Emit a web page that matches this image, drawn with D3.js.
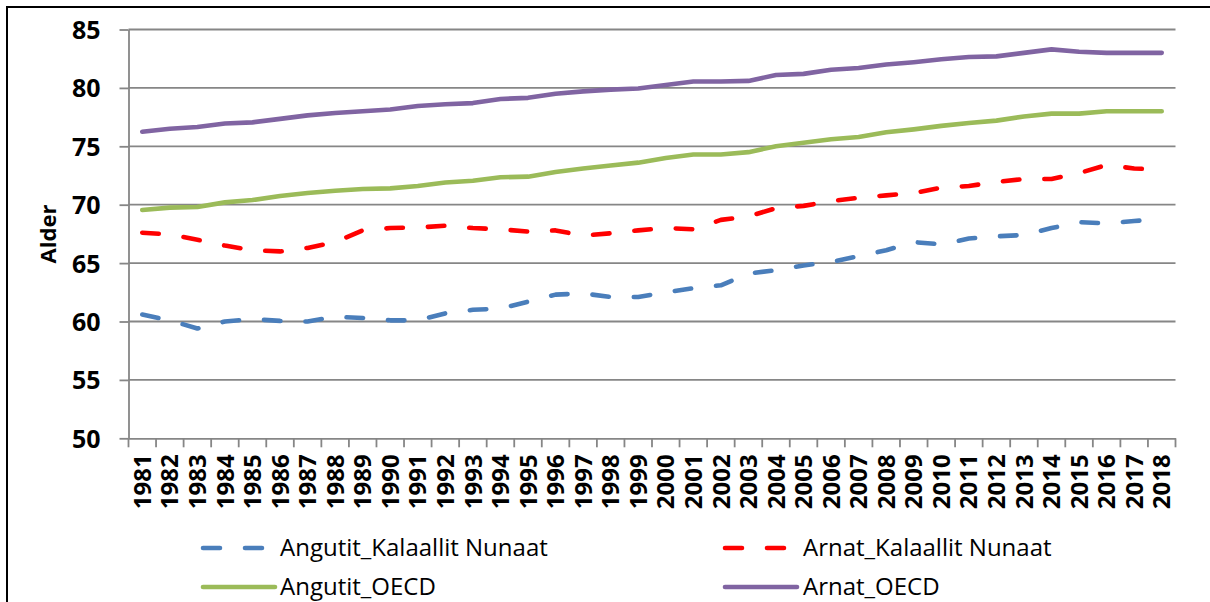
<!DOCTYPE html>
<html>
<head>
<meta charset="utf-8">
<script src="https://cdn.jsdelivr.net/npm/d3@7"></script>
<style>
  body { margin: 0; background: #fff; }
  svg { display: block; }
  .tick text { font-family: "Open Sans", sans-serif; font-weight: bold; fill: #000; }
</style>
</head>
<body>
<script>
// ages per year
var years = ["1981","1982","1983","1984","1985","1986","1987","1988","1989","1990",
  "1991","1992","1993","1994","1995","1996","1997","1998","1999","2000",
  "2001","2002","2003","2004","2005","2006","2007","2008","2009","2010",
  "2011","2012","2013","2014","2015","2016","2017","2018"];

var angutitKN = [60.6, 60.1, 59.4, 60.0, 60.2, 60.05, 60.0, 60.4, 60.3, 60.1, 60.1,
  60.7, 61.0, 61.1, 61.7, 62.3, 62.4, 62.1, 62.1, 62.5, 62.85, 63.1, 64.1, 64.4, 64.8,
  65.1, 65.6, 66.1, 66.8, 66.6, 67.1, 67.3, 67.4, 68.0, 68.5, 68.4, 68.6, 68.8];

var arnatKN = [67.6, 67.45, 67.0, 66.5, 66.1, 66.0, 66.3, 66.8, 67.8, 68.0, 68.05,
  68.2, 68.0, 67.9, 67.7, 67.8, 67.35, 67.55, 67.8, 68.0, 67.9, 68.7, 69.0, 69.7, 69.9,
  70.3, 70.6, 70.8, 71.0, 71.45, 71.6, 71.95, 72.2, 72.2, 72.7, 73.4, 73.1, 73.0];

var angutitOECD = [69.55, 69.75, 69.8, 70.2, 70.4, 70.75, 71.0, 71.2, 71.35, 71.4, 71.6,
  71.9, 72.05, 72.35, 72.4, 72.8, 73.1, 73.35, 73.6, 74.0, 74.3, 74.3, 74.5, 75.0, 75.3,
  75.6, 75.8, 76.2, 76.45, 76.75, 77.0, 77.2, 77.55, 77.8, 77.8, 78.0, 78.0, 78.0];

var arnatOECD = [76.25, 76.5, 76.65, 76.95, 77.05, 77.35, 77.65, 77.85, 78.0, 78.15, 78.45,
  78.6, 78.7, 79.05, 79.15, 79.5, 79.7, 79.85, 79.95, 80.25, 80.55, 80.55, 80.6, 81.1, 81.2,
  81.55, 81.7, 82.0, 82.2, 82.45, 82.65, 82.7, 83.0, 83.3, 83.1, 83.0, 83.0, 83.0];

var yTicks = [50, 55, 60, 65, 70, 75, 80, 85];

var series = [
  {name: "Angutit_Kalaallit Nunaat", values: angutitKN, color: "#4a7ebb", dash: true},
  {name: "Arnat_Kalaallit Nunaat", values: arnatKN, color: "#ff0000", dash: true},
  {name: "Angutit_OECD", values: angutitOECD, color: "#9bbb59", dash: false},
  {name: "Arnat_OECD", values: arnatOECD, color: "#8064a2", dash: false}
];

var W = 1210, H = 602;
var plotL = 128.5, plotR = 1175.5, plotT = 29.5, plotB = 438.3;

var svg = d3.select("body").append("svg")
  .attr("width", W)
  .attr("height", H);

// chart frame (runs off the picture on right and bottom)
svg.append("rect")
  .attr("x", 7).attr("y", 7)
  .attr("width", 1400).attr("height", 800)
  .attr("fill", "none")
  .attr("stroke", "#000")
  .attr("stroke-width", 2);

var x = d3.scaleBand().domain(years).range([plotL, plotR]);
var y = d3.scaleLinear().domain([50, 85]).range([plotB, plotT]);

// gridlines
svg.append("g").selectAll("line")
  .data(yTicks.slice(1))
  .enter().append("line")
  .attr("x1", plotL).attr("x2", plotR)
  .attr("y1", function(d) { return y(d); })
  .attr("y2", function(d) { return y(d); })
  .attr("stroke", "#868686")
  .attr("stroke-width", 1.8);

// y axis
var yAxis = svg.append("g")
  .attr("transform", "translate(" + plotL + ",0)")
  .call(d3.axisLeft(y).tickValues(yTicks).tickSize(9).tickSizeOuter(0).tickPadding(19));
yAxis.selectAll("line, path").attr("stroke", "#868686").attr("stroke-width", 1.8);
yAxis.selectAll("text").style("font-size", "25px").attr("dy", "0.36em");

// x axis: labels at centres, ticks on category borders
var xAxis = svg.append("g")
  .attr("transform", "translate(0," + plotB + ")")
  .call(d3.axisBottom(x).tickSize(0).tickSizeOuter(0));
xAxis.select("path").attr("stroke", "#868686").attr("stroke-width", 1.8);
xAxis.selectAll("text")
  .style("font-size", "24px")
  .attr("text-anchor", "end")
  .attr("transform", "rotate(-90)")
  .attr("x", -16)
  .attr("y", 0)
  .attr("dy", "0.36em");

var borders = years.map(function(d) { return x(d); }).concat([plotR]);
svg.append("g").selectAll("line")
  .data(borders)
  .enter().append("line")
  .attr("x1", function(d) { return d; })
  .attr("x2", function(d) { return d; })
  .attr("y1", plotB)
  .attr("y2", plotB + 9)
  .attr("stroke", "#868686")
  .attr("stroke-width", 1.8);

// y title
svg.append("text")
  .attr("transform", "translate(56,234) rotate(-90)")
  .attr("text-anchor", "middle")
  .style("font-family", "Open Sans, sans-serif")
  .style("font-weight", "bold")
  .style("font-size", "22px")
  .text("Alder");

// lines
var line = d3.line()
  .x(function(d, i) { return x(years[i]) + x.bandwidth() / 2; })
  .y(function(d) { return y(d); });

svg.append("g").selectAll("path")
  .data(series)
  .enter().append("path")
  .attr("d", function(s) { return line(s.values); })
  .attr("fill", "none")
  .attr("stroke", function(s) { return s.color; })
  .attr("stroke-width", 4.6)
  .attr("stroke-linecap", "round")
  .attr("stroke-linejoin", "round")
  .attr("stroke-dasharray", function(s) { return s.dash ? "16.5 25" : null; });

// legend
var legendPos = [[203, 548], [725, 548], [203, 587], [725, 587]];
var legend = svg.append("g").selectAll("g")
  .data(series)
  .enter().append("g")
  .attr("transform", function(s, i) { return "translate(" + legendPos[i][0] + "," + legendPos[i][1] + ")"; });

legend.append("line")
  .attr("x1", 0)
  .attr("x2", function(s) { return s.dash ? 66 : 72; })
  .attr("y1", 0).attr("y2", 0)
  .attr("stroke", function(s) { return s.color; })
  .attr("stroke-width", 4.6)
  .attr("stroke-linecap", "round")
  .attr("stroke-dasharray", function(s) { return s.dash ? "17 25" : null; });

legend.append("text")
  .attr("x", function(s, i) { return i % 2 ? 78 : 77; })
  .attr("y", 0)
  .attr("dy", "0.35em")
  .style("font-family", "Open Sans, sans-serif")
  .style("font-size", "24px")
  .text(function(s) { return s.name; });
</script>
</body>
</html>
